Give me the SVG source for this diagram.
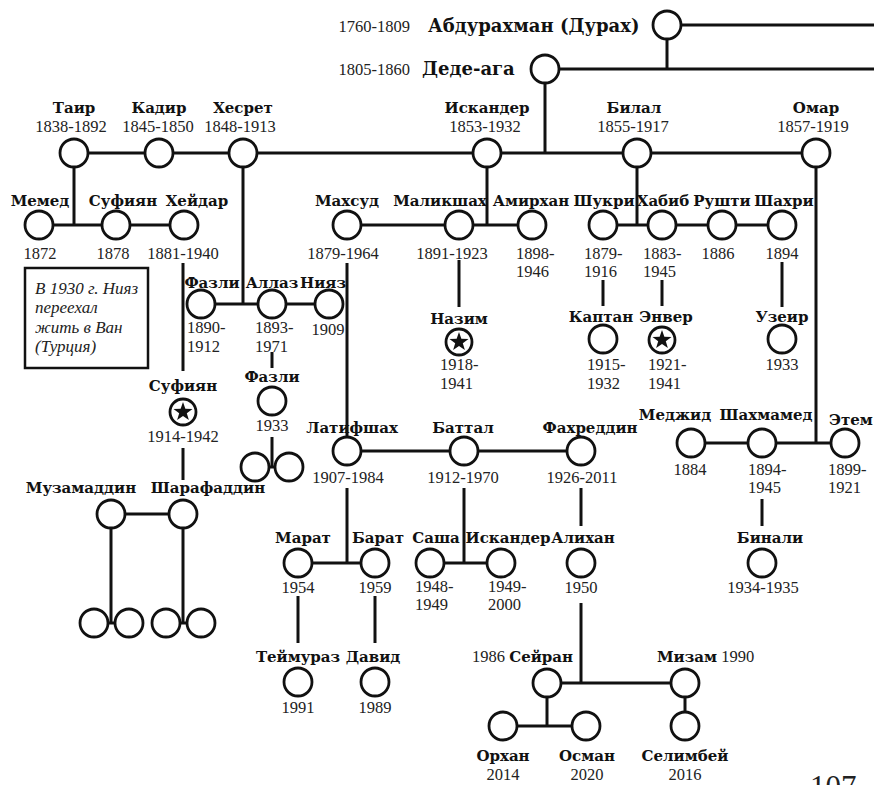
<svg xmlns="http://www.w3.org/2000/svg" xmlns:xlink="http://www.w3.org/1999/xlink" width="874" height="785" viewBox="0 0 874 785">
<style>
.n{font-family:"DejaVu Serif","Liberation Serif",serif;font-weight:bold;font-size:15px;fill:#111;text-anchor:middle}
.nb{font-family:"DejaVu Serif","Liberation Serif",serif;font-weight:bold;font-size:18px;fill:#111}
.y{font-family:"Liberation Serif",serif;font-size:16.5px;fill:#222;text-anchor:middle}
.ys{font-family:"Liberation Serif",serif;font-size:16.5px;fill:#222}
.it{font-family:"Liberation Serif",serif;font-style:italic;font-size:17px;fill:#222}
.c{fill:#fff;stroke:#111;stroke-width:2.8}
.l{stroke:#111;stroke-width:3;fill:none}
.bx{fill:#fff;stroke:#111;stroke-width:2.5}
</style>
<defs>
<polygon id="star" points="0,-10 2.35,-3.24 9.51,-3.09 3.8,1.24 5.88,8.09 0,4 -5.88,8.09 -3.8,1.24 -9.51,-3.09 -2.35,-3.24" fill="#111"/>
</defs>
<rect width="874" height="785" fill="#fff"/>
<g id="connectors" class="l">
<line x1="667" y1="25" x2="874" y2="25"/>
<line x1="667" y1="25" x2="667" y2="69"/>
<line x1="545" y1="69" x2="874" y2="69"/>
<line x1="545" y1="69" x2="545" y2="153"/>
<line x1="74" y1="153" x2="816" y2="153"/>
<line x1="74" y1="153" x2="74" y2="225"/>
<line x1="39" y1="225" x2="184" y2="225"/>
<line x1="243" y1="153" x2="243" y2="304"/>
<line x1="201" y1="304" x2="329" y2="304"/>
<line x1="183" y1="263" x2="183" y2="371"/>
<line x1="183" y1="448" x2="183" y2="480"/>
<line x1="111" y1="514" x2="183" y2="514"/>
<line x1="111" y1="514" x2="111" y2="623"/>
<line x1="183" y1="514" x2="183" y2="623"/>
<line x1="94" y1="623" x2="129" y2="623"/>
<line x1="166" y1="623" x2="201" y2="623"/>
<line x1="272" y1="352" x2="272" y2="368"/>
<line x1="272" y1="437" x2="272" y2="467"/>
<line x1="255" y1="467" x2="289" y2="467"/>
<line x1="487" y1="153" x2="487" y2="225"/>
<line x1="347" y1="225" x2="532" y2="225"/>
<line x1="347" y1="263" x2="347" y2="451"/>
<line x1="459" y1="260" x2="459" y2="307"/>
<line x1="347" y1="451" x2="581" y2="451"/>
<line x1="347" y1="488" x2="347" y2="563"/>
<line x1="298" y1="563" x2="375" y2="563"/>
<line x1="298" y1="596" x2="298" y2="643"/>
<line x1="375" y1="596" x2="375" y2="643"/>
<line x1="464" y1="488" x2="464" y2="563"/>
<line x1="430" y1="563" x2="501" y2="563"/>
<line x1="581" y1="488" x2="581" y2="526"/>
<line x1="581" y1="603" x2="581" y2="683"/>
<line x1="547" y1="683" x2="685" y2="683"/>
<line x1="547" y1="683" x2="547" y2="726"/>
<line x1="503" y1="726" x2="586" y2="726"/>
<line x1="685" y1="683" x2="685" y2="726"/>
<line x1="637" y1="153" x2="637" y2="225"/>
<line x1="603" y1="225" x2="782" y2="225"/>
<line x1="603" y1="280" x2="603" y2="306"/>
<line x1="662" y1="280" x2="662" y2="306"/>
<line x1="782" y1="262" x2="782" y2="307"/>
<line x1="816" y1="153" x2="816" y2="443"/>
<line x1="691" y1="443" x2="845" y2="443"/>
<line x1="762" y1="499" x2="762" y2="526"/>
</g>
<g id="n-abdurahman"><circle class="c" cx="667" cy="25" r="14"/><text class="ys" x="410" y="32" text-anchor="end">1760-1809</text><text class="nb" x="428" y="32">Абдурахман (Дурах)</text></g>
<g id="n-dede"><circle class="c" cx="545" cy="69" r="14"/><text class="ys" x="410" y="75" text-anchor="end">1805-1860</text><text class="nb" x="422" y="75">Деде-ага</text></g>
<g id="n-tair"><circle class="c" cx="74" cy="153" r="14"/><text class="n" x="74" y="113">Таир</text><text class="y" x="71" y="132">1838-1892</text></g>
<g id="n-kadir"><circle class="c" cx="159" cy="153" r="14"/><text class="n" x="159" y="113">Кадир</text><text class="y" x="158" y="132">1845-1850</text></g>
<g id="n-hesret"><circle class="c" cx="243" cy="153" r="14"/><text class="n" x="243" y="113">Хесрет</text><text class="y" x="240" y="132">1848-1913</text></g>
<g id="n-iskander"><circle class="c" cx="487" cy="153" r="14"/><text class="n" x="487" y="113">Искандер</text><text class="y" x="485" y="132">1853-1932</text></g>
<g id="n-bilal"><circle class="c" cx="637" cy="153" r="14"/><text class="n" x="634" y="113">Билал</text><text class="y" x="633" y="132">1855-1917</text></g>
<g id="n-omar"><circle class="c" cx="816" cy="153" r="14"/><text class="n" x="816" y="113">Омар</text><text class="y" x="813" y="132">1857-1919</text></g>
<g id="n-memed"><circle class="c" cx="39" cy="225" r="14"/><text class="n" x="40" y="206">Мемед</text><text class="y" x="40" y="259">1872</text></g>
<g id="n-sufiyan"><circle class="c" cx="116" cy="225" r="14"/><text class="n" x="123" y="206">Суфиян</text><text class="y" x="113" y="259">1878</text></g>
<g id="n-heidar"><circle class="c" cx="184" cy="225" r="14"/><text class="n" x="197" y="206">Хейдар</text><text class="y" x="183" y="259">1881-1940</text></g>
<g id="note"><rect class="bx" x="25" y="268" width="123" height="100"/><text class="it" x="35" y="294">В 1930 г. Нияз</text><text class="it" x="35" y="313">переехал</text><text class="it" x="35" y="333">жить в Ван</text><text class="it" x="35" y="352">(Турция)</text></g>
<g id="n-fazli"><circle class="c" cx="201" cy="304" r="14"/><text class="n" x="212" y="288">Фазли</text><text class="ys" x="187" y="333">1890-</text><text class="ys" x="187" y="352">1912</text></g>
<g id="n-allaz"><circle class="c" cx="272" cy="304" r="14"/><text class="n" x="272" y="288">Аллаз</text><text class="ys" x="255" y="333">1893-</text><text class="ys" x="255" y="352">1971</text></g>
<g id="n-niyaz"><circle class="c" cx="329" cy="304" r="14"/><text class="n" x="323" y="288">Нияз</text><text class="y" x="328" y="335">1909</text></g>
<g id="n-sufiyan2"><circle class="c" cx="183" cy="412" r="13"/><use xlink:href="#star" x="183" y="412"/><text class="n" x="183" y="391">Суфиян</text><text class="y" x="183" y="442">1914-1942</text></g>
<g id="n-muzamaddin"><circle class="c" cx="111" cy="514" r="14"/><text class="n" x="81" y="493">Музамаддин</text></g>
<g id="n-sharafaddin"><circle class="c" cx="183" cy="514" r="14"/><text class="n" x="208" y="493">Шарафаддин</text></g>
<g id="n-c1"><circle class="c" cx="94" cy="623" r="14"/></g>
<g id="n-c2"><circle class="c" cx="129" cy="623" r="14"/></g>
<g id="n-c3"><circle class="c" cx="166" cy="623" r="14"/></g>
<g id="n-c4"><circle class="c" cx="201" cy="623" r="14"/></g>
<g id="n-fazli2"><circle class="c" cx="272" cy="401" r="14"/><text class="n" x="272" y="382">Фазли</text><text class="y" x="272" y="431">1933</text></g>
<g id="n-c5"><circle class="c" cx="255" cy="467" r="14"/></g>
<g id="n-c6"><circle class="c" cx="289" cy="467" r="14"/></g>
<g id="n-mahsud"><circle class="c" cx="347" cy="225" r="14"/><text class="n" x="347" y="206">Махсуд</text><text class="y" x="343" y="259">1879-1964</text></g>
<g id="n-malikshah"><circle class="c" cx="459" cy="225" r="14"/><text class="n" x="440" y="206">Маликшах</text><text class="y" x="452" y="259">1891-1923</text></g>
<g id="n-amirhan"><circle class="c" cx="532" cy="225" r="14"/><text class="n" x="531" y="206">Амирхан</text><text class="ys" x="516" y="259">1898-</text><text class="ys" x="516" y="277">1946</text></g>
<g id="n-nazim"><circle class="c" cx="459" cy="342" r="13"/><use xlink:href="#star" x="459" y="342"/><text class="n" x="459" y="324">Назим</text><text class="ys" x="440" y="370">1918-</text><text class="ys" x="440" y="389">1941</text></g>
<g id="n-latifshah"><circle class="c" cx="347" cy="451" r="14"/><text class="n" x="352" y="433">Латифшах</text><text class="y" x="348" y="483">1907-1984</text></g>
<g id="n-battal"><circle class="c" cx="464" cy="451" r="14"/><text class="n" x="463" y="433">Баттал</text><text class="y" x="463" y="483">1912-1970</text></g>
<g id="n-fahreddin"><circle class="c" cx="581" cy="451" r="14"/><text class="n" x="590" y="433">Фахреддин</text><text class="y" x="582" y="483">1926-2011</text></g>
<g id="n-marat"><circle class="c" cx="298" cy="563" r="14"/><text class="n" x="303" y="543">Марат</text><text class="y" x="298" y="593">1954</text></g>
<g id="n-barat"><circle class="c" cx="375" cy="563" r="14"/><text class="n" x="378" y="543">Барат</text><text class="y" x="375" y="593">1959</text></g>
<g id="n-teymuraz"><circle class="c" cx="298" cy="682" r="14"/><text class="n" x="298" y="662">Теймураз</text><text class="y" x="298" y="713">1991</text></g>
<g id="n-david"><circle class="c" cx="375" cy="682" r="14"/><text class="n" x="373" y="662">Давид</text><text class="y" x="375" y="713">1989</text></g>
<g id="n-sasha"><circle class="c" cx="430" cy="563" r="14"/><text class="n" x="436" y="543">Саша</text><text class="ys" x="415" y="592">1948-</text><text class="ys" x="415" y="610">1949</text></g>
<g id="n-iskander2"><circle class="c" cx="501" cy="563" r="14"/><text class="n" x="508" y="543">Искандер</text><text class="ys" x="488" y="592">1949-</text><text class="ys" x="488" y="610">2000</text></g>
<g id="n-alihan"><circle class="c" cx="581" cy="563" r="14"/><text class="n" x="583" y="543">Алихан</text><text class="y" x="581" y="593">1950</text></g>
<g id="n-seyran"><circle class="c" cx="547" cy="683" r="14"/><text x="573" y="662" text-anchor="end"><tspan class="ys">1986 </tspan><tspan class="nb" style="font-size:15px">Сейран</tspan></text></g>
<g id="n-mizam"><circle class="c" cx="685" cy="683" r="14"/><text x="657" y="662"><tspan class="nb" style="font-size:15px">Мизам</tspan><tspan class="ys"> 1990</tspan></text></g>
<g id="n-orhan"><circle class="c" cx="503" cy="726" r="14"/><text class="n" x="503" y="761">Орхан</text><text class="y" x="503" y="780">2014</text></g>
<g id="n-osman"><circle class="c" cx="586" cy="726" r="14"/><text class="n" x="587" y="761">Осман</text><text class="y" x="587" y="780">2020</text></g>
<g id="n-selimbey"><circle class="c" cx="685" cy="726" r="14"/><text class="n" x="685" y="761">Селимбей</text><text class="y" x="685" y="780">2016</text></g>
<g id="n-shukri"><circle class="c" cx="603" cy="225" r="14"/><text class="n" x="604" y="206">Шукри</text><text class="ys" x="584" y="259">1879-</text><text class="ys" x="584" y="277">1916</text></g>
<g id="n-habib"><circle class="c" cx="662" cy="225" r="14"/><text class="n" x="663" y="206">Хабиб</text><text class="ys" x="643" y="259">1883-</text><text class="ys" x="643" y="277">1945</text></g>
<g id="n-rushti"><circle class="c" cx="722" cy="225" r="14"/><text class="n" x="722" y="206">Рушти</text><text class="y" x="718" y="259">1886</text></g>
<g id="n-shahri"><circle class="c" cx="782" cy="225" r="14"/><text class="n" x="784" y="206">Шахри</text><text class="y" x="782" y="259">1894</text></g>
<g id="n-kaptan"><circle class="c" cx="603" cy="339" r="14"/><text class="n" x="601" y="322">Каптан</text><text class="ys" x="587" y="370">1915-</text><text class="ys" x="587" y="389">1932</text></g>
<g id="n-enver"><circle class="c" cx="662" cy="340" r="13"/><use xlink:href="#star" x="662" y="340"/><text class="n" x="666" y="322">Энвер</text><text class="ys" x="648" y="370">1921-</text><text class="ys" x="648" y="389">1941</text></g>
<g id="n-uzeir"><circle class="c" cx="782" cy="339" r="14"/><text class="n" x="782" y="322">Узеир</text><text class="y" x="782" y="370">1933</text></g>
<g id="n-medzhid"><circle class="c" cx="691" cy="443" r="14"/><text class="n" x="675" y="420">Меджид</text><text class="y" x="690" y="475">1884</text></g>
<g id="n-shahmamed"><circle class="c" cx="762" cy="443" r="14"/><text class="n" x="766" y="420">Шахмамед</text><text class="ys" x="748" y="475">1894-</text><text class="ys" x="748" y="493">1945</text></g>
<g id="n-etem"><circle class="c" cx="845" cy="443" r="14"/><text class="n" x="851" y="425">Этем</text><text class="ys" x="828" y="475">1899-</text><text class="ys" x="828" y="493">1921</text></g>
<g id="n-binali"><circle class="c" cx="762" cy="563" r="14"/><text class="n" x="770" y="543">Бинали</text><text class="y" x="763" y="593">1934-1935</text></g>
<text x="810" y="797" style="font-family:'Liberation Serif',serif;font-size:31px;fill:#222">107</text>
</svg>
